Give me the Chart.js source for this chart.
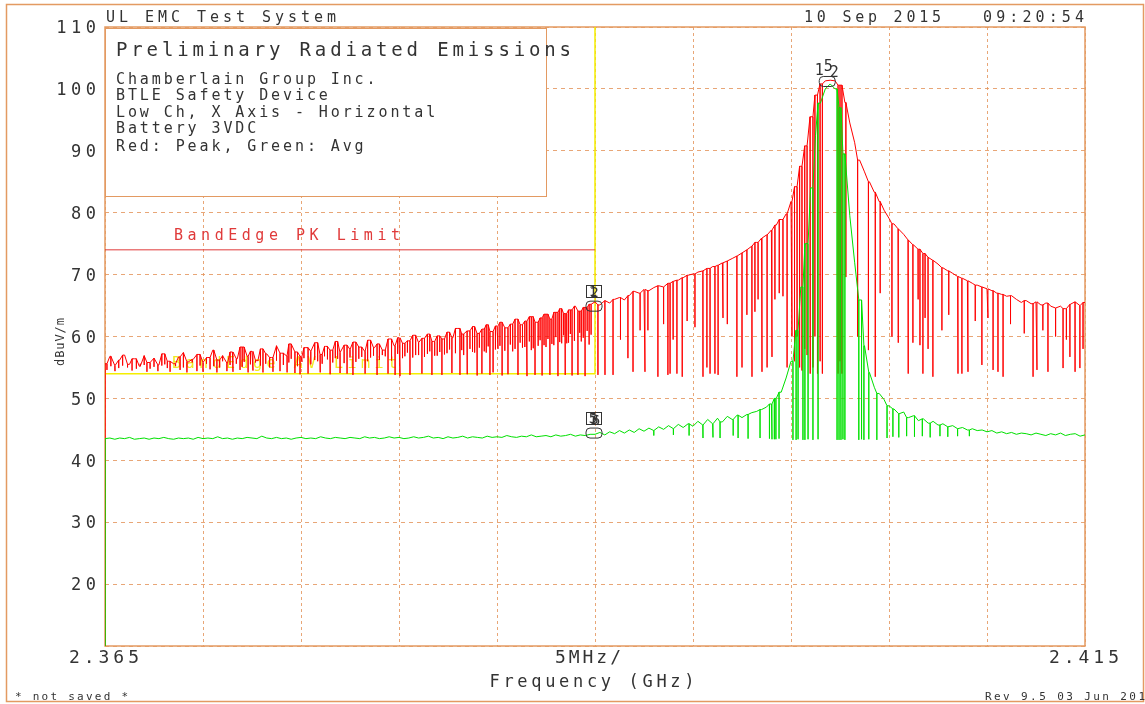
<!DOCTYPE html>
<html>
<head>
<meta charset="utf-8">
<script src="https://cdn.jsdelivr.net/npm/chart.js@4.4.0/dist/chart.umd.min.js"></script>
<style>
  html, body { margin: 0; padding: 0; background: #fff; }
  canvas { display: block; }
</style>
</head>
<body>
<canvas id="chart" width="1145" height="704"></canvas>
<script>
// sweep 2.365 - 2.415 GHz, one trace sample every 0.25 MHz
const startMHz = 2365;
const stepMHz = 0.25;

// peak detector (red), dBuV/m
const redPeak = [
  55.6, 56.8, 55.3, 56.2, 57.0, 55.5, 56.4, 55.2, 56.9, 55.8,
  56.5, 55.4, 57.2, 56.0, 55.6, 56.7, 57.4, 55.9, 56.3, 57.1,
  55.8, 56.6, 57.8, 56.2, 56.9, 55.7, 57.5, 56.4, 58.3, 56.8,
  57.6, 56.1, 58.0, 57.2, 56.6, 58.5, 57.3, 56.9, 58.8, 57.5,
  56.8, 58.2, 57.6, 59.0, 57.1, 58.4, 57.8, 59.2, 57.4, 58.6,
  57.9, 59.1, 58.3, 57.6, 59.4, 58.2, 58.8, 57.8, 59.6, 58.5,
  59.8, 58.9, 59.3, 60.2, 59.0, 59.7, 60.4, 59.2, 60.1, 59.6,
  60.7, 59.8, 61.3, 60.4, 60.9, 61.6, 60.5, 61.2, 61.9, 60.8,
  61.7, 62.3, 61.4, 62.0, 62.8, 61.9, 62.5, 63.2, 62.3, 63.0,
  63.6, 62.8, 63.9, 64.5, 63.7, 64.3, 64.9, 64.1, 64.7, 65.2,
  65.6, 65.1, 65.8, 65.4, 66.0, 66.3, 65.9, 66.6, 67.3, 67.0,
  67.6, 67.4, 67.9, 68.2, 68.0, 68.6, 68.9, 69.1, 69.5, 69.9,
  70.1, 70.4, 70.6, 71.0, 71.3, 71.5, 71.9, 72.2, 72.6, 73.0,
  73.5, 74.0, 74.6, 75.2, 75.9, 76.4, 77.2, 78.0, 78.9, 79.8,
  81.8, 84.2, 87.5, 90.8, 95.5, 99.0, 100.8, 101.3, 101.4, 101.3,
  100.6, 97.8, 94.5, 91.3, 88.5, 86.6, 85.0, 83.3, 81.8, 80.4,
  79.1, 78.2, 77.4, 76.5, 75.6, 74.8, 74.1, 73.4, 72.8, 72.3,
  71.7, 71.1, 70.6, 70.2, 69.7, 69.4, 69.0, 68.6, 68.3, 68.0,
  67.7, 67.4, 67.0, 66.8, 66.5, 66.6, 66.0, 65.5, 65.8, 65.3,
  65.6, 65.1, 65.4, 64.9, 64.6, 64.9, 64.5, 65.2, 65.6, 65.0,
  65.5
];

// deep drop-outs of the peak trace: frequency (MHz) and bottom level
const redDipMHz = [
  2365.00, 2365.10, 2365.51, 2365.90, 2366.38, 2366.80, 2367.14, 2367.30, 2367.70, 2368.05,
  2368.32, 2368.83, 2369.18, 2369.45, 2369.69, 2370.00, 2370.36, 2370.71, 2371.00, 2371.22,
  2371.53, 2371.89, 2372.10, 2372.30, 2372.55, 2372.80, 2373.06, 2373.57, 2373.93, 2374.29,
  2374.50, 2374.69, 2374.95, 2375.15, 2375.36, 2375.70, 2375.97, 2376.20, 2376.48, 2376.75,
  2376.99, 2377.35, 2377.65, 2377.95, 2378.27, 2378.55, 2378.88, 2379.15, 2379.44, 2379.80,
  2380.05, 2380.30, 2380.56, 2380.85, 2381.17, 2381.45, 2381.68, 2381.95, 2382.19, 2382.45,
  2382.70, 2383.11, 2383.30, 2383.47, 2383.75, 2383.98, 2384.23, 2384.45, 2384.64, 2384.80,
  2385.05, 2385.26, 2385.56, 2385.80, 2386.07, 2386.30, 2386.53, 2386.75, 2386.94, 2387.10,
  2387.30, 2387.50, 2387.70, 2387.90, 2388.11, 2388.30, 2388.47, 2388.65, 2388.83, 2389.13,
  2389.30, 2389.49, 2389.70, 2390.15, 2390.51, 2390.92, 2391.30, 2391.68, 2391.94, 2392.30,
  2392.55, 2392.70, 2393.21, 2393.50, 2393.72, 2393.83, 2393.98, 2394.18, 2394.45, 2394.70,
  2395.10, 2395.51, 2395.71, 2395.87, 2396.12, 2396.28, 2396.53, 2396.75, 2397.24, 2397.50,
  2397.75, 2398.01, 2398.16, 2398.32, 2398.52, 2398.78, 2399.03, 2399.18, 2399.40, 2399.59,
  2399.80, 2400.05, 2400.18, 2400.31, 2400.44, 2400.56, 2400.70, 2400.82, 2400.97, 2401.12,
  2401.22, 2401.35, 2401.48, 2401.60, 2402.40, 2402.50, 2402.60, 2402.80, 2403.40, 2403.95,
  2404.30, 2404.55, 2405.15, 2405.46, 2405.97, 2406.22, 2406.48, 2406.58, 2406.73, 2406.84,
  2406.99, 2407.24, 2407.70, 2408.05, 2408.52, 2408.72, 2409.03, 2409.40, 2409.74, 2410.05,
  2410.31, 2410.56, 2410.82, 2411.20, 2411.90, 2412.35, 2412.55, 2412.85, 2413.11, 2413.50,
  2413.88, 2414.05, 2414.23, 2414.49, 2414.74, 2414.90
];
const redDipLow = [
  10.0, 54.6, 54.4, 55.3, 54.5, 55.6, 54.3, 54.8, 54.4, 55.5,
  54.3, 54.6, 54.2, 55.8, 54.4, 54.3, 54.7, 54.2, 56.0, 54.4,
  54.3, 54.6, 55.9, 54.2, 54.5, 56.2, 54.2, 54.3, 54.4, 54.2,
  56.4, 54.1, 53.9, 56.5, 54.0, 56.2, 54.2, 56.8, 53.9, 56.5,
  54.1, 54.0, 53.8, 56.4, 54.0, 56.6, 53.8, 57.0, 54.0, 53.8,
  53.6, 56.8, 53.8, 57.0, 54.0, 57.2, 53.8, 56.9, 53.8, 57.3,
  54.1, 53.8, 57.0, 53.9, 57.5, 53.7, 54.0, 57.4, 53.8, 54.2,
  58.0, 53.7, 53.9, 57.6, 53.8, 58.2, 53.6, 57.8, 53.8, 58.5,
  53.7, 58.3, 53.8, 58.6, 53.6, 58.9, 53.8, 59.0, 53.7, 53.8,
  59.2, 53.6, 58.7, 53.8, 53.8, 53.8, 59.5, 56.5, 54.3, 61.0,
  54.3, 61.0, 53.5, 62.0, 53.8, 54.0, 59.5, 54.0, 53.5, 62.5,
  61.5, 53.5, 55.0, 54.0, 54.0, 53.8, 63.0, 62.0, 53.5, 55.0,
  63.5, 53.5, 64.0, 66.0, 54.3, 55.0, 56.7, 66.0, 67.0, 66.5,
  55.0, 60.0, 56.0, 60.0, 55.0, 54.5, 58.0, 57.0, 54.0, 55.0,
  60.0, 54.0, 56.0, 54.0, 54.0, 56.0, 54.0, 69.6, 60.0, 57.8,
  53.5, 67.0, 60.0, 59.0, 54.0, 59.0, 66.0, 58.6, 54.0, 63.0,
  58.0, 53.5, 61.0, 63.5, 54.0, 54.0, 54.3, 62.5, 55.4, 63.0,
  54.6, 54.3, 53.5, 62.0, 60.5, 53.5, 54.6, 61.0, 54.3, 60.0,
  54.9, 59.5, 56.7, 54.3, 54.9, 58.0
];

// shallow notches in the noisy lower band of the peak trace
const redNotchMHz = [
  2365.30, 2365.70, 2366.15, 2366.60, 2367.00, 2367.50, 2367.90, 2368.18, 2368.60, 2369.00,
  2369.85, 2370.18, 2370.55, 2370.85, 2371.38, 2371.70, 2372.00, 2372.42, 2372.68, 2372.93,
  2373.20, 2373.40, 2373.75, 2374.10, 2374.38, 2374.82, 2375.05, 2375.50, 2375.85, 2376.08,
  2376.35, 2376.62, 2376.87, 2377.20, 2377.50, 2377.80, 2378.10, 2378.40, 2378.70, 2379.00,
  2379.30, 2379.62, 2379.93, 2380.18, 2380.43, 2380.70, 2381.00, 2381.30, 2381.57, 2381.82,
  2382.08, 2382.32, 2382.58, 2382.88, 2383.20, 2383.62, 2383.86, 2384.10, 2384.35, 2384.55,
  2384.92, 2385.15, 2385.40, 2385.68, 2385.92, 2386.18, 2386.42, 2386.65, 2386.85, 2387.20,
  2387.40, 2387.60, 2387.80, 2388.00, 2388.20, 2388.40, 2388.56, 2388.74, 2388.95, 2389.22,
  2389.40, 2389.60, 2389.80
];
const redNotchLow = [
  55.2, 54.9, 55.0, 54.8, 55.4, 55.1, 55.3, 54.9, 55.2, 55.0,
  55.3, 55.6, 55.2, 55.0, 55.4, 55.6, 55.1, 55.5, 55.8, 55.3,
  55.6, 55.0, 56.1, 55.4, 55.8, 55.2, 55.9, 55.5, 56.0, 55.6,
  56.3, 55.8, 56.4, 55.7, 56.6, 55.9, 56.7, 56.0, 56.9, 56.2,
  56.8, 56.1, 57.2, 56.5, 57.4, 56.6, 57.0, 56.7, 57.6, 56.9,
  57.5, 57.1, 57.9, 57.3, 57.8, 58.0, 57.4, 58.2, 57.6, 58.4,
  57.9, 58.5, 57.7, 58.7, 58.0, 59.0, 58.3, 59.2, 58.1, 59.4,
  58.6, 59.6, 58.8, 59.9, 59.1, 60.2, 58.9, 60.4, 59.3, 60.6,
  59.8, 60.9, 60.3
];

// average detector (green), dBuV/m
const greenAvg = [
  43.5, 43.6, 43.4, 43.6, 43.5, 43.7, 43.4, 43.5, 43.6, 43.4,
  43.6, 43.5, 43.7, 43.5, 43.4, 43.6, 43.5, 43.6, 43.4, 43.7,
  43.5, 43.6, 43.5, 43.8, 43.5, 43.6, 43.4, 43.6, 43.5, 43.7,
  43.6, 43.5, 43.9, 43.6, 43.5, 43.7, 43.5, 43.6, 43.4, 43.6,
  43.7, 43.5, 43.6, 43.5, 43.8, 43.6, 43.5, 43.7, 43.6, 43.5,
  43.7, 43.6, 43.5, 43.8, 43.6, 43.7, 43.5, 43.6, 43.8, 43.6,
  43.7, 43.5, 43.6, 43.8, 43.6, 43.7, 43.9, 43.6, 43.7, 43.5,
  43.8, 43.6, 43.7, 43.9, 43.6, 43.8, 43.7, 43.6, 43.9, 43.7,
  43.8, 43.7, 44.0, 43.8, 43.7, 43.9, 43.8, 44.1, 43.8, 43.9,
  44.0, 43.8, 44.1, 43.9, 44.0, 44.2, 43.9, 44.1, 44.0, 44.2,
  44.2, 44.5, 44.1, 44.6, 44.3, 44.8, 44.4, 44.9, 44.5, 45.1,
  44.7, 45.2, 44.8, 45.4, 45.0, 45.6, 45.1, 45.8, 45.3, 45.9,
  45.5, 46.3, 45.7, 46.6, 45.9, 46.8, 46.2, 47.1, 46.6, 47.3,
  46.9, 47.4, 47.7, 47.9, 48.2, 48.6, 49.1, 50.0, 51.0, 53.3,
  56.0, 61.0, 68.0, 75.0, 84.0, 92.5, 97.7, 100.0, 100.8, 100.0,
  97.0, 89.5, 79.5, 71.9, 65.9, 58.5, 54.2, 51.8, 50.8, 49.8,
  48.8, 48.3, 47.5, 47.8, 46.9, 47.2, 46.4, 46.7, 46.0, 46.3,
  45.7, 45.9, 45.4, 45.6, 45.1, 45.3, 44.9, 45.1, 44.8, 44.9,
  44.6, 44.8, 44.4, 44.6, 44.3, 44.5, 44.2, 44.4, 44.3, 44.1,
  44.4, 44.2, 44.0, 44.3, 44.1, 44.4, 44.0, 44.2, 44.3, 43.9,
  44.1
];

const greenDipMHz = [
  2365.00, 2393.00, 2394.00, 2394.80, 2395.51, 2396.02, 2396.38, 2397.05, 2397.30, 2397.81,
  2398.42, 2398.90, 2399.03, 2399.15, 2399.23, 2399.39, 2400.10, 2400.26, 2400.36, 2400.61,
  2400.71, 2400.87, 2401.12, 2401.38, 2402.35, 2402.45, 2402.55, 2402.65, 2402.75, 2403.46,
  2403.60, 2403.72, 2403.97, 2404.38, 2404.90, 2405.20, 2405.50, 2405.90, 2406.30, 2406.70,
  2407.10, 2407.60, 2408.00, 2408.50, 2409.10
];
const greenDipLow = [
  10.0, 44.0, 44.1, 44.0, 43.6, 43.7, 43.6, 44.0, 43.6, 43.5,
  43.6, 43.5, 43.4, 43.4, 43.4, 43.5, 43.3, 43.3, 43.4, 43.3,
  43.3, 43.4, 43.3, 43.4, 43.3, 43.3, 43.3, 43.4, 43.3, 43.3,
  43.4, 43.3, 43.4, 43.3, 43.6, 43.8, 43.7, 43.9, 43.8, 43.9,
  43.7, 43.9, 43.8, 43.9, 43.9
];

// band edge limits
const pkLimitMHz = [2365, 2390];
const pkLimitDb = [74, 74];
const avLimitMHz = [2365, 2390, 2390];
const avLimitDb = [54, 54, 110];

// markers
const markerMHz = [2389.95, 2389.95, 2401.85];
const markerDb = [64.9, 44.4, 101.2];
const markerText = [["1", "2"], ["5", "3", "6"], ["1", "5", "2"]];

function buildTrace(env, dipLists) {
  const pts = env.map((v, i) => ({ x: startMHz + i * stepMHz, y: v }));
  dipLists.forEach(([dipMHz, dipLow]) => {
    dipMHz.forEach((f, k) => {
      let i = Math.round((f - startMHz) / stepMHz);
      i = Math.max(0, Math.min(env.length - 1, i));
      pts.push({ x: f, y: env[i] }, { x: f, y: dipLow[k] }, { x: f, y: env[i] });
    });
  });
  return pts.sort((a, b) => a.x - b.x);
}

function pairs(xs, ys) {
  return xs.map((x, i) => ({ x: x, y: ys[i] }));
}

const ORANGE = '#e39a62';
const TEXT = '#333';
const FONT = '"DejaVu Sans Mono", monospace';

function drawText(ctx, text, x, y, o) {
  ctx.save();
  ctx.font = o.size + 'px ' + FONT;
  ctx.letterSpacing = '0px';
  const w0 = ctx.measureText(text).width;
  const n = text.length;
  let sp = o.sp || 0;
  if (o.width && n > 1) sp = (o.width - w0) / (n - 1);
  const total = w0 + sp * (n - 1);
  let left = x;
  if (o.align === 'right') left = x - total;
  if (o.align === 'center') left = x - total / 2;
  ctx.letterSpacing = sp + 'px';
  ctx.textAlign = 'left';
  ctx.textBaseline = 'alphabetic';
  ctx.fillStyle = o.color || TEXT;
  ctx.fillText(text, left, y + o.size * 0.365);
  ctx.restore();
}

const decor = {
  id: 'decor',
  beforeDraw(chart) {
    const ctx = chart.ctx;
    ctx.save();
    ctx.fillStyle = '#fff';
    ctx.fillRect(0, 0, chart.width, chart.height);
    ctx.restore();
  },
  beforeDatasetsDraw(chart) {
    const ctx = chart.ctx;
    const a = chart.chartArea;
    ctx.save();
    // plot frame, under the traces
    ctx.strokeStyle = ORANGE;
    ctx.lineWidth = 1.5;
    ctx.strokeRect(a.left, a.top, a.right - a.left, a.bottom - a.top);
    // info box
    ctx.fillStyle = '#fff';
    ctx.fillRect(106, 29, 441, 168);
    ctx.lineWidth = 1;
    ctx.strokeRect(105.5, 28.5, 441, 168);
    ctx.restore();
    drawText(ctx, 'Preliminary Radiated Emissions', 116, 49, { size: 19, width: 455 });
    const lines = ['Chamberlain Group Inc.', 'BTLE Safety Device', 'Low Ch, X Axis - Horizontal',
                   'Battery 3VDC', 'Red: Peak, Green: Avg'];
    const ly = [79, 95, 112, 128, 146];
    lines.forEach((s, i) => drawText(ctx, s, 116, ly[i], { size: 15, sp: 2.9 }));
    drawText(ctx, 'BandEdge PK Limit', 174, 235, { size: 15, width: 226, color: '#e03a3a' });
    drawText(ctx, 'BandEdge AV Limit', 172, 363, { size: 15, width: 225, color: '#f0ea20' });
  },
  afterDatasetsDraw(chart) {
    const ctx = chart.ctx;
    const xs = chart.scales.x, ys = chart.scales.y;
    markerMHz.forEach((f, k) => {
      const px = xs.getPixelForValue(f), py = ys.getPixelForValue(markerDb[k]);
      ctx.save();
      ctx.strokeStyle = '#333';
      ctx.lineWidth = 1;
      ctx.beginPath();
      ctx.roundRect(px - 8, py - 5, 16, 10, 4);
      ctx.stroke();
      ctx.restore();
      const t = markerText[k];
      if (k < 2) {
        ctx.save();
        ctx.strokeStyle = '#333';
        ctx.strokeRect(Math.round(px - 8) + 0.5, Math.round(py - 21) + 0.5, 15, 12);
        ctx.restore();
        t.forEach((s, j) => drawText(ctx, s, px - 1 + j * 1.5, py - 15 + j, { size: 14, align: 'center' }));
      } else {
        drawText(ctx, t[0], px - 8, py - 12, { size: 15, align: 'center' });
        drawText(ctx, t[1], px + 1, py - 16, { size: 15, align: 'center' });
        drawText(ctx, t[2], px + 7, py - 10, { size: 15, align: 'center' });
      }
    });
  },
  afterDraw(chart) {
    const ctx = chart.ctx;
    const ys = chart.scales.y, xs = chart.scales.x;
    ctx.save();
    ctx.strokeStyle = ORANGE;
    ctx.lineWidth = 1.5;
    ctx.strokeRect(6.5, 4.5, 1137, 697);
    ctx.restore();

    ys.ticks.forEach(t => {
      if (t.value === 10) return;
      drawText(ctx, String(t.value), 96, ys.getPixelForValue(t.value), { size: 17, sp: 4.5, align: 'right' });
    });
    xs.ticks.forEach(t => {
      let s = '';
      if (t.value === 2365) s = '2.365';
      if (t.value === 2390) s = '5MHz/';
      if (t.value === 2415) s = '2.415';
      if (!s) return;
      const dx = t.value === 2390 ? -6 : 0;
      drawText(ctx, s, xs.getPixelForValue(t.value) + dx - 1, 656, { size: 18, width: s === '5MHz/' ? 66 : 70, align: 'center' });
    });

    drawText(ctx, 'UL EMC Test System', 106, 17, { size: 15, width: 230 });
    drawText(ctx, '10 Sep 2015', 804, 17, { size: 15, width: 137 });
    drawText(ctx, '09:20:54', 983, 17, { size: 15, width: 101 });
    drawText(ctx, 'Frequency (GHz)', 592, 681, { size: 17, width: 205, align: 'center' });
    drawText(ctx, '* not saved *', 15, 696, { size: 11, width: 113 });
    drawText(ctx, 'Rev 9.5 03 Jun 2015', 985, 696, { size: 11, sp: 2.4 });

    ctx.save();
    ctx.translate(60, 342);
    ctx.rotate(-Math.PI / 2);
    drawText(ctx, 'dBuV/m', 0, 0, { size: 12, width: 48, align: 'center' });
    ctx.restore();
  }
};

const gridColor = 'rgba(228,150,95,0.85)';

new Chart(document.getElementById('chart'), {
  type: 'line',
  data: {
    datasets: [
      { label: 'Avg', data: buildTrace(greenAvg, [[greenDipMHz, greenDipLow]]),
        borderColor: '#00e000', borderWidth: 1, pointRadius: 0, order: 0 },
      { label: 'Peak', data: buildTrace(redPeak, [[redDipMHz, redDipLow], [redNotchMHz, redNotchLow]]),
        borderColor: '#ff0000', borderWidth: 1, pointRadius: 0, order: 1 },
      { label: 'PK limit', data: pairs(pkLimitMHz, pkLimitDb),
        borderColor: '#e03a3a', borderWidth: 1, pointRadius: 0, order: 2 },
      { label: 'AV limit', data: pairs(avLimitMHz, avLimitDb),
        borderColor: '#f4ee00', borderWidth: 1.5, pointRadius: 0, order: 3 }
    ]
  },
  options: {
    responsive: false,
    animation: false,
    parsing: false,
    layout: { padding: { top: 27, right: 60, left: 0, bottom: 0 } },
    elements: { line: { tension: 0 } },
    plugins: { legend: { display: false }, tooltip: { enabled: false } },
    scales: {
      x: {
        type: 'linear', min: 2365, max: 2415,
        afterFit: s => { s.height = 58; },
        ticks: { stepSize: 5, display: false },
        grid: { color: gridColor, drawTicks: false, lineWidth: 1 },
        border: { display: false, dash: [3, 3] }
      },
      y: {
        min: 10, max: 110,
        afterFit: s => { s.width = 105; },
        ticks: { stepSize: 10, display: false },
        grid: { color: gridColor, drawTicks: false, lineWidth: 1 },
        border: { display: false, dash: [4, 4] }
      }
    }
  },
  plugins: [decor]
});
</script>
</body>
</html>
